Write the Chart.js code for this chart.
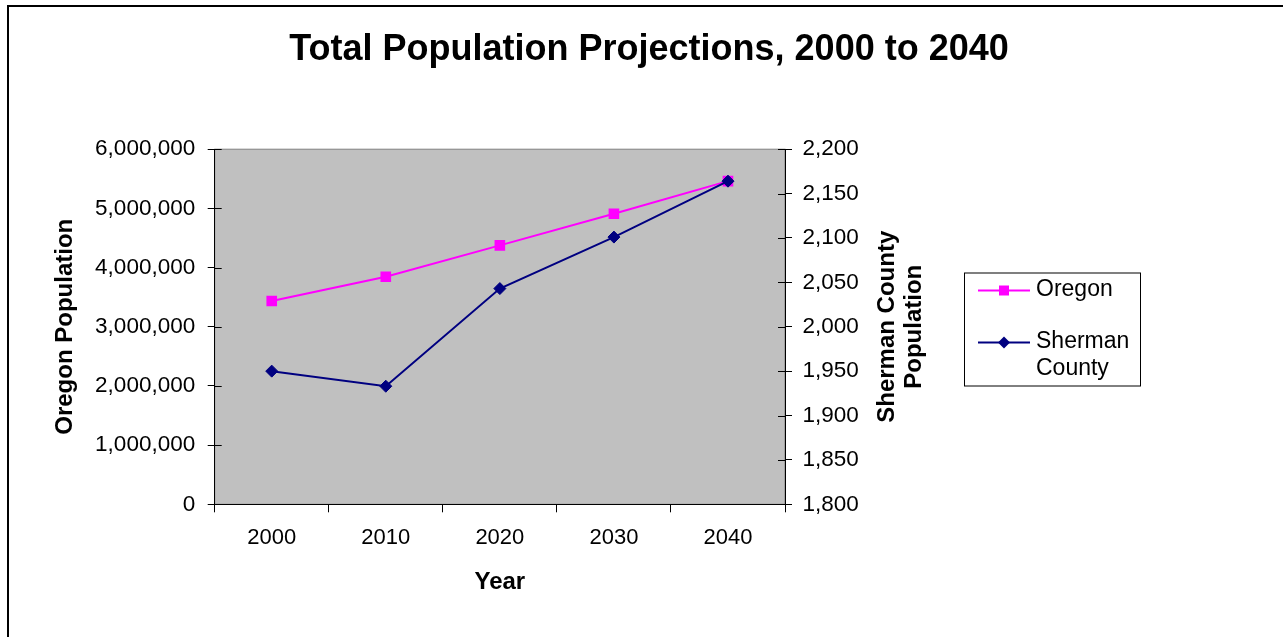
<!DOCTYPE html>
<html>
<head>
<meta charset="utf-8">
<script src="https://cdn.jsdelivr.net/npm/chart.js@4.4.0/dist/chart.umd.min.js"></script>
<style>
  body { margin: 0; background: #fff; overflow: hidden; }
  #frame { position: absolute; left: 7px; top: 5px; width: 1300px; height: 700px; border: 2px solid #000; }
  #chart { position: absolute; left: 0; top: 0; }
</style>
</head>
<body>
<div id="frame"></div>
<canvas id="chart" width="1283" height="637"></canvas>
<script>
const years = ['2000', '2010', '2020', '2030', '2040'];
const oregonPop = [3436000, 3845000, 4375000, 4910000, 5460000];
const shermanPop = [1950, 1933, 2043, 2101, 2164];

const chartTitle = 'Total Population Projections, 2000 to 2040';
const leftTitle = 'Oregon Population';
const rightTitle = ['Sherman County', 'Population'];
const xTitle = 'Year';

const FONT = '"Liberation Sans", Arial, sans-serif';
const magenta = '#FF00FF';
const navy = '#000080';

// grey plot background
const plotBg = {
    id: 'plotBg',
    beforeDraw(chart) {
        const { ctx, chartArea: a } = chart;
        ctx.save();
        ctx.fillStyle = '#C0C0C0';
        ctx.fillRect(a.left, a.top, a.right - a.left, a.bottom - a.top);
        ctx.strokeStyle = '#808080';
        ctx.lineWidth = 1;
        ctx.strokeRect(a.left, a.top, a.right - a.left, a.bottom - a.top);
        ctx.restore();
    }
};

// inner half of the crossing tick marks, right axis title, legend
const extras = {
    id: 'extras',
    afterDraw(chart) {
        const { ctx, chartArea: a } = chart;
        const yL = chart.scales.y, yR = chart.scales.y1;
        ctx.save();
        ctx.strokeStyle = '#000';
        ctx.lineWidth = 1;
        yL.ticks.forEach(t => {
            const py = Math.round(yL.getPixelForValue(t.value)) + 0.5;
            ctx.beginPath(); ctx.moveTo(a.left, py); ctx.lineTo(a.left + 7, py); ctx.stroke();
        });
        yR.ticks.forEach(t => {
            const py = Math.round(yR.getPixelForValue(t.value)) + 0.5;
            ctx.beginPath(); ctx.moveTo(a.right - 7, py); ctx.lineTo(a.right, py); ctx.stroke();
        });

        // right axis title, reads bottom to top
        ctx.fillStyle = '#000';
        ctx.font = 'bold 24px ' + FONT;
        ctx.textAlign = 'center';
        ctx.textBaseline = 'middle';
        ctx.translate(a.right + 102, (a.top + a.bottom) / 2);
        ctx.rotate(-Math.PI / 2);
        rightTitle.forEach((s, i) => ctx.fillText(s, 0, i * 27));
        ctx.restore();

        // legend
        ctx.save();
        const lx = 964, ly = 272.5;
        ctx.strokeStyle = '#000';
        ctx.lineWidth = 1;
        ctx.strokeRect(lx + 0.5, ly + 0.5, 176, 113);
        const items = [
            { ds: chart.data.datasets[0], y: 290.5, lines: ['Oregon'] },
            { ds: chart.data.datasets[1], y: 342.5, lines: ['Sherman', 'County'] }
        ];
        ctx.font = '23px ' + FONT;
        ctx.textAlign = 'left';
        ctx.textBaseline = 'middle';
        items.forEach(it => {
            ctx.strokeStyle = it.ds.borderColor;
            ctx.lineWidth = 2;
            ctx.beginPath(); ctx.moveTo(978, it.y); ctx.lineTo(1030, it.y); ctx.stroke();
            ctx.fillStyle = it.ds.pointBackgroundColor;
            ctx.beginPath();
            if (it.ds.pointStyle === 'rect') {
                ctx.rect(1004 - 5, it.y - 5, 10, 10);
            } else {
                ctx.moveTo(1004 - 6, it.y); ctx.lineTo(1004, it.y - 6);
                ctx.lineTo(1004 + 6, it.y); ctx.lineTo(1004, it.y + 6);
                ctx.closePath();
            }
            ctx.fill();
            ctx.fillStyle = '#000';
            it.lines.forEach((s, i) => ctx.fillText(s, 1036, it.y - 1 + i * 27));
        });
        ctx.restore();
    }
};

new Chart(document.getElementById('chart'), {
    type: 'line',
    data: {
        labels: years,
        datasets: [{
            label: 'Oregon',
            data: oregonPop,
            yAxisID: 'y',
            borderColor: magenta,
            backgroundColor: magenta,
            pointBackgroundColor: magenta,
            pointBorderColor: magenta,
            pointStyle: 'rect',
            pointRadius: 7.5,
            borderWidth: 2,
            pointBorderWidth: 0,
            order: 1
        }, {
            label: 'Sherman County',
            data: shermanPop,
            yAxisID: 'y1',
            borderColor: navy,
            backgroundColor: navy,
            pointBackgroundColor: navy,
            pointBorderColor: navy,
            pointStyle: 'rectRot',
            pointRadius: 6,
            borderWidth: 2,
            pointBorderWidth: 1,
            order: 0
        }]
    },
    options: {
        responsive: false,
        animation: false,
        devicePixelRatio: 1,
        locale: 'en-US',
        layout: { padding: { left: 15, top: 0, right: 0, bottom: 0 } },
        plugins: {
            legend: { display: false },
            tooltip: { enabled: false },
            title: {
                display: true,
                text: chartTitle,
                color: '#000',
                font: { family: FONT, size: 36, weight: 'bold' },
                padding: { top: 28, bottom: 78 }
            }
        },
        scales: {
            x: {
                offset: true,
                grid: { offset: true, drawOnChartArea: false, tickLength: 8, color: '#000' },
                border: { color: '#000', width: 1 },
                ticks: { color: '#000', font: { family: FONT, size: 22 }, padding: 12.5, maxRotation: 0 },
                title: { display: true, text: xTitle, color: '#000', font: { family: FONT, size: 24, weight: 'bold' }, padding: { top: 0, bottom: 40 } },
                afterFit(s) { s.height = 132.7; }
            },
            y: {
                position: 'left',
                min: 0,
                max: 6000000,
                ticks: { stepSize: 1000000, color: '#000', font: { family: FONT, size: 22.5 }, padding: 12.5 },
                grid: { drawOnChartArea: false, tickLength: 7, color: '#000' },
                border: { color: '#000', width: 1 },
                title: { display: true, text: leftTitle, color: '#000', font: { family: FONT, size: 24, weight: 'bold' }, padding: { top: 35.5, bottom: 0 } },
                afterFit(s) { s.width = 199.7; }
            },
            y1: {
                position: 'right',
                min: 1800,
                max: 2200,
                ticks: { stepSize: 50, color: '#000', font: { family: FONT, size: 22.5 }, padding: 10.5 },
                grid: { drawOnChartArea: false, tickLength: 7, color: '#000' },
                border: { color: '#000', width: 1 },
                afterFit(s) { s.width = 498; }
            }
        }
    },
    plugins: [plotBg, extras]
});
</script>
</body>
</html>
